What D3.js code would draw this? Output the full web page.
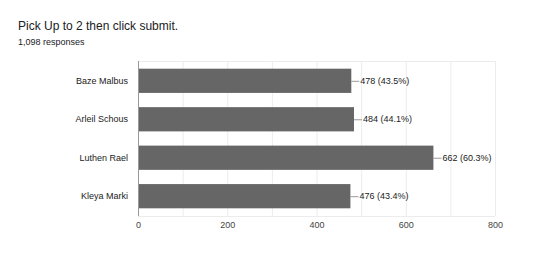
<!DOCTYPE html>
<html>
<head>
<meta charset="utf-8">
<script src="https://cdn.jsdelivr.net/npm/d3@7"></script>
<style>
  body { margin: 0; background: #fff; }
  svg { display: block; font-family: 'Liberation Sans', Arial, sans-serif; }
</style>
</head>
<body>
<div id="chart"></div>
<script>
// data
const names = ['Baze Malbus', 'Arleil Schous', 'Luthen Rael', 'Kleya Marki']
const counts = [478, 484, 662, 476]
const percents = ['43.5%', '44.1%', '60.3%', '43.4%']
const xTicks = [0, 200, 400, 600, 800]
const gridTicks = [0, 100, 200, 300, 400, 500, 600, 700, 800]

const chart = { width: 550, height: 262 }
const margin = { left: 138, right: 55, top: 61, bottom: 46 }

const svg = d3.select('#chart').append('svg')
  .attr('width', chart.width)
  .attr('height', chart.height)

// titles
svg.append('text')
  .attr('x', 18).attr('y', 30)
  .attr('font-size', '12px')
  .attr('fill', '#202124')
  .text('Pick Up to 2 then click submit.')

svg.append('text')
  .attr('x', 18).attr('y', 45)
  .attr('font-size', '9px')
  .attr('fill', '#202124')
  .text('1,098 responses')

const w = chart.width - margin.left - margin.right
const h = chart.height - margin.top - margin.bottom

const xScale = d3.scaleLinear().domain([0, 800]).range([0, w])
const yScale = d3.scaleBand().domain(names).range([0, h]).paddingInner(0.37).paddingOuter(0.2)

const base = svg.append('g')
  .attr('transform', `translate(${margin.left}, ${margin.top})`)

// grid
base.selectAll('.grid')
  .data(gridTicks)
  .join('line')
  .attr('class', 'grid')
  .attr('x1', d => xScale(d) + 0.5).attr('x2', d => xScale(d) + 0.5)
  .attr('y1', 0).attr('y2', h)
  .attr('stroke', '#ececec')

base.append('line')
  .attr('x1', 0).attr('x2', w)
  .attr('y1', 0.5).attr('y2', 0.5)
  .attr('stroke', '#ececec')
base.append('line')
  .attr('x1', 0).attr('x2', w)
  .attr('y1', h + 0.5).attr('y2', h + 0.5)
  .attr('stroke', '#ececec')

// bars
const rows = base.selectAll('.row')
  .data(names)
  .join('g')
  .attr('class', 'row')

rows.append('rect')
  .attr('x', 0)
  .attr('y', d => yScale(d))
  .attr('width', (d, i) => xScale(counts[i]))
  .attr('height', yScale.bandwidth())
  .attr('fill', '#666666')

rows.append('line')
  .attr('x1', (d, i) => xScale(counts[i]))
  .attr('x2', (d, i) => xScale(counts[i]) + 8)
  .attr('y1', d => yScale(d) + yScale.bandwidth() / 2 + 0.5)
  .attr('y2', d => yScale(d) + yScale.bandwidth() / 2 + 0.5)
  .attr('stroke', '#999')

rows.append('text')
  .attr('x', (d, i) => xScale(counts[i]) + 9)
  .attr('y', d => yScale(d) + yScale.bandwidth() / 2)
  .attr('dy', '0.35em')
  .attr('font-size', '9px')
  .attr('fill', '#222')
  .text((d, i) => `${counts[i]} (${percents[i]})`)

// y labels
rows.append('text')
  .attr('x', -10)
  .attr('y', d => yScale(d) + yScale.bandwidth() / 2)
  .attr('dy', '0.35em')
  .attr('text-anchor', 'end')
  .attr('font-size', '9px')
  .attr('fill', '#222')
  .text(d => d)

// axis line
base.append('line')
  .attr('x1', 0.5).attr('x2', 0.5)
  .attr('y1', 0).attr('y2', h)
  .attr('stroke', '#999')

// x axis
const xAxis = d3.axisBottom(xScale).tickValues(xTicks).tickSize(0).tickPadding(6)
const bottomAxis = base.append('g')
  .attr('transform', `translate(0, ${h})`)
  .call(xAxis)
bottomAxis.select('.domain').remove()
bottomAxis.selectAll('text')
  .attr('font-size', '9px')
  .attr('font-family', "'Liberation Sans', Arial, sans-serif")
  .attr('fill', '#444')
</script>
</body>
</html>
